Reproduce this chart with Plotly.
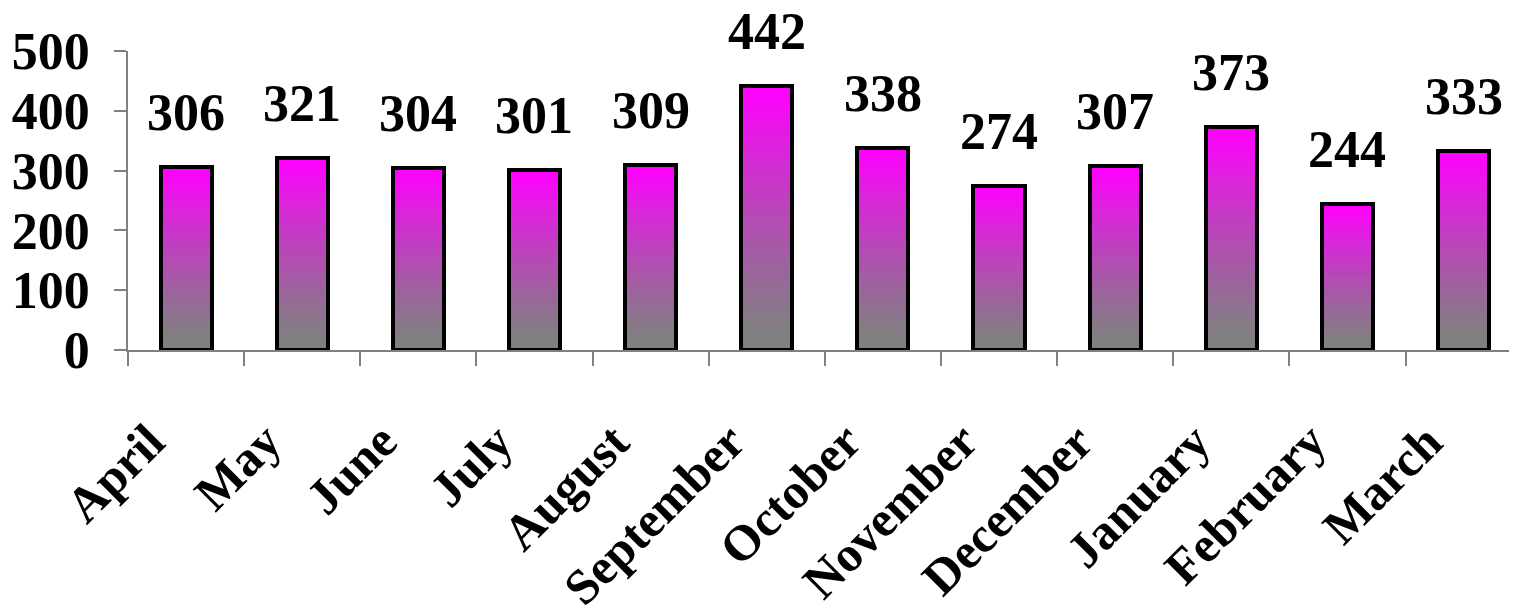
import plotly.graph_objects as go

months = ["April", "May", "June", "July", "August", "September",
          "October", "November", "December", "January", "February", "March"]
values = [306, 321, 304, 301, 309, 442, 338, 274, 307, 373, 244, 333]
y_ticks = [0, 100, 200, 300, 400, 500]

FONT = "Liberation Serif"
N = 60
top = (255, 0, 255)
bottom = (128, 128, 128)
BAR_W = 0.44

# page has an 8px default body margin; compensate so the plot lands where wanted
OFF = 8
W, H = 1517 - OFF, 615 - OFF
PLOT_TOP, PLOT_BOTTOM = 51, 350   # page pixels
PLOT_H = PLOT_BOTTOM - PLOT_TOP

fig = go.Figure()
for k in range(N):
    t = k / (N - 1)
    s = max(0.0, min(1.0, (t - 0.05) / 0.95)) ** 1.15
    c = tuple(round(bottom[i] + (top[i] - bottom[i]) * s) for i in range(3))
    fig.add_trace(go.Bar(
        x=months,
        base=[v * k / N for v in values],
        y=[v * (N - k) / N for v in values],
        width=BAR_W,
        marker=dict(color="rgb(%d,%d,%d)" % c, line=dict(width=0)),
        hoverinfo="skip", showlegend=False,
    ))
fig.add_trace(go.Bar(
    x=months, y=values, base=[0] * len(values), width=BAR_W,
    marker=dict(color="rgba(0,0,0,0)", line=dict(color="black", width=4)),
    showlegend=False,
))

# value labels above bars
for m, v in zip(months, values):
    fig.add_annotation(x=m, y=v, text="<b>%d</b>" % v, showarrow=False,
                       yanchor="bottom", yshift=24,
                       font=dict(family=FONT, size=52, color="black"))

# rotated category labels
label_y_px = 410
for m in months:
    fig.add_annotation(x=m, xref="x", y=-(label_y_px - PLOT_BOTTOM) / PLOT_H, yref="paper",
                       text="<b>%s</b>" % m, showarrow=False, textangle=-45,
                       xanchor="right", yanchor="top", xshift=-8,
                       font=dict(family=FONT, size=50, color="black"))

fig.update_layout(
    width=W, height=H,
    margin=dict(l=128 - OFF, r=0, t=PLOT_TOP - OFF, b=H - (PLOT_BOTTOM - OFF),
                autoexpand=False),
    barmode="overlay", bargap=0,
    plot_bgcolor="white", paper_bgcolor="white",
    font=dict(family=FONT, color="black"),
)
fig.update_xaxes(
    type="category", range=[-0.5, 11.46], automargin=False,
    showline=True, linecolor="#808080", linewidth=1.5,
    ticks="outside", ticklen=14, tickcolor="#808080", tickwidth=1.5,
    tickson="boundaries", showticklabels=False,
    showgrid=False, zeroline=False,
)
fig.update_yaxes(
    range=[0, 500], tickvals=y_ticks, automargin=False,
    ticktext=["<b>%d</b>" % t for t in y_ticks],
    showline=True, linecolor="#808080", linewidth=1.5,
    ticks="outside", ticklen=12, tickcolor="#808080", tickwidth=1.5,
    tickfont=dict(family=FONT, size=52, color="black"),
    ticklabelstandoff=14,
    showgrid=False, zeroline=False,
)
fig.write_html("out.html")
